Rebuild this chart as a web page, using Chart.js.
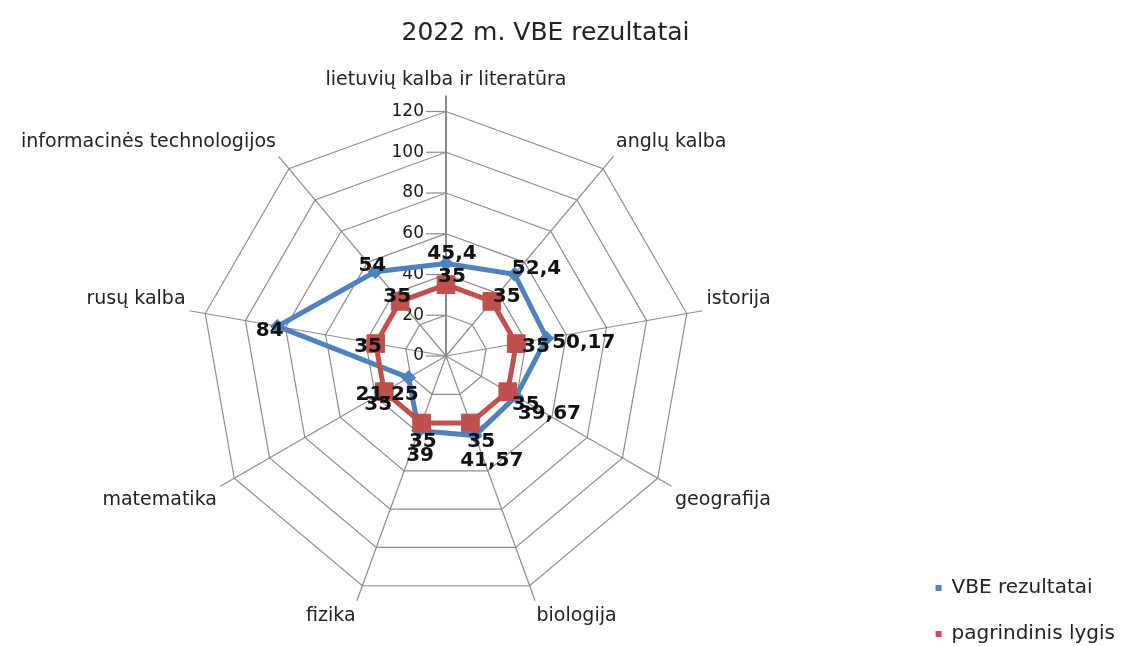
<!DOCTYPE html>
<html>
<head>
<meta charset="utf-8">
<script src="https://cdn.jsdelivr.net/npm/chart.js@4.4.1/dist/chart.umd.min.js"></script>
<style>
    html, body { margin: 0; padding: 0; background: #fff; }
    #wrap { width: 1125px; height: 646px; position: relative; }
</style>
</head>
<body>
<div id="wrap"><canvas id="radar"></canvas></div>
<script>
// duomenys
const dalykai = [
    "lietuvių kalba ir literatūra", "anglų kalba", "istorija", "geografija",
    "biologija", "fizika", "matematika", "rusų kalba", "informacinės technologijos"
];
const vbeRezultatai = [45.4, 52.4, 50.17, 39.67, 41.57, 39, 21.25, 84, 54];
const pagrindinisLygis = [35, 35, 35, 35, 35, 35, 35, 35, 35];
const skalesReiksmes = [0, 20, 40, 60, 80, 100, 120];

const MELYNA = "#4f81bd";
const RAUDONA = "#c0504d";
const SRIFTAS = "'DejaVu Sans', sans-serif";
const TINKLAS = "#8c8c8c";
const DESINE = 58; // vieta dešinėje, kad diagrama būtų kairiau

Chart.defaults.font.family = SRIFTAS;
Chart.defaults.color = "#222";

// ašys ir skalės žymės
const asysPlugin = {
    id: "asys",
    beforeDatasetsDraw(chart) {
        const scale = chart.scales.r;
        const ctx = chart.ctx;
        const max = skalesReiksmes[skalesReiksmes.length - 1];
        ctx.save();
        // spinduliai, šiek tiek ilgesni už tinklelį
        dalykai.forEach((_, i) => {
            const p = scale.getPointPositionForValue(i, max);
            const dx = p.x - scale.xCenter;
            const dy = p.y - scale.yCenter;
            const len = Math.sqrt(dx * dx + dy * dy);
            const k = (len + 16) / len;
            ctx.beginPath();
            ctx.strokeStyle = TINKLAS;
            ctx.lineWidth = i === 0 ? 2 : 1.2;
            ctx.moveTo(scale.xCenter, scale.yCenter);
            ctx.lineTo(scale.xCenter + dx * k, scale.yCenter + dy * k);
            ctx.stroke();
        });
        // skalės reikšmės kairėje nuo vertikalios ašies
        ctx.font = "17px " + SRIFTAS;
        ctx.fillStyle = "#1a1a1a";
        ctx.textAlign = "right";
        ctx.textBaseline = "middle";
        skalesReiksmes.forEach(v => {
            const y = scale.yCenter - scale.getDistanceFromCenterForValue(v);
            ctx.beginPath();
            ctx.strokeStyle = TINKLAS;
            ctx.lineWidth = 1.2;
            ctx.moveTo(scale.xCenter - 20, y);
            ctx.lineTo(scale.xCenter, y);
            ctx.stroke();
            ctx.fillText(String(v), scale.xCenter - 22, y);
        });
        ctx.restore();
    }
};

// reikšmių etiketės prie taškų
const etiketesPlugin = {
    id: "etiketes",
    afterDatasetsDraw(chart) {
        const scale = chart.scales.r;
        const ctx = chart.ctx;
        ctx.save();
        ctx.font = "bold 20px " + SRIFTAS;
        ctx.fillStyle = "#111";
        ctx.textAlign = "center";
        ctx.textBaseline = "middle";
        // pirmiau raudonos, ant viršaus mėlynos
        [1, 0].forEach(di => {
            const meta = chart.getDatasetMeta(di);
            const ds = chart.data.datasets[di];
            const k = di === 0 ? 18 : 14;
            const c = di === 0 ? 8 : 6;
            meta.data.forEach((pt, i) => {
                const a = Math.atan2(pt.y - scale.yCenter, pt.x - scale.xCenter);
                const tekstas = String(ds.data[i]).replace(".", ",");
                const w = ctx.measureText(tekstas).width;
                ctx.fillText(tekstas, pt.x + Math.cos(a) * w / 2 + 6, pt.y + Math.sin(a) * k + c);
            });
        });
        ctx.restore();
    }
};

// legenda apačioje dešinėje, pavadinimas šiek tiek dešiniau, kaip originale
const vietosPlugin = {
    id: "vietos",
    afterLayout(chart) {
        const lg = chart.legend;
        lg.left += DESINE;
        lg.right += DESINE;
        lg.top += 34;
        lg.bottom += 34;
        const t = chart.titleBlock;
        if (t) {
            t.left += 12;
            t.right += 12;
        }
    }
};

const ctx = document.getElementById("radar").getContext("2d");

new Chart(ctx, {
    type: "radar",
    data: {
        labels: dalykai,
        datasets: [
            {
                label: "VBE rezultatai",
                data: vbeRezultatai,
                borderColor: MELYNA,
                backgroundColor: MELYNA,
                borderWidth: 5,
                fill: false,
                pointStyle: "rectRot",
                pointRadius: 7,
                pointBorderWidth: 1,
                pointBackgroundColor: MELYNA,
                pointBorderColor: MELYNA,
                order: 1
            },
            {
                label: "pagrindinis lygis",
                data: pagrindinisLygis,
                borderColor: RAUDONA,
                backgroundColor: RAUDONA,
                borderWidth: 5,
                fill: false,
                pointStyle: "rect",
                pointRadius: 12.5,
                pointBorderWidth: 1,
                pointBackgroundColor: RAUDONA,
                pointBorderColor: RAUDONA,
                order: 0
            }
        ]
    },
    options: {
        responsive: true,
        maintainAspectRatio: false,
        animation: false,
        devicePixelRatio: 1,
        layout: {
            padding: { top: 0, right: DESINE, bottom: 10, left: 0 }
        },
        elements: {
            line: { tension: 0 }
        },
        scales: {
            r: {
                min: 0,
                max: 120,
                beginAtZero: true,
                ticks: {
                    stepSize: 20,
                    display: false
                },
                grid: {
                    color: TINKLAS,
                    lineWidth: 1.2
                },
                angleLines: { display: false },
                pointLabels: {
                    padding: 20,
                    color: "#222",
                    font: { size: 19 }
                }
            }
        },
        plugins: {
            title: {
                display: true,
                text: "2022 m. VBE rezultatai",
                color: "#222",
                font: { size: 25, weight: "normal" },
                padding: { top: 18, bottom: 12 }
            },
            legend: {
                position: "right",
                align: "end",
                labels: {
                    boxWidth: 6,
                    boxHeight: 6,
                    padding: 26,
                    color: "#222",
                    font: { size: 20 },
                    sort: (a, b) => a.datasetIndex - b.datasetIndex,
                    generateLabels(chart) {
                        const items = Chart.defaults.plugins.legend.labels.generateLabels(chart);
                        items.forEach(it => {
                            const ds = chart.data.datasets[it.datasetIndex];
                            it.fillStyle = ds.borderColor;
                            it.strokeStyle = ds.borderColor;
                            it.lineWidth = 0;
                        });
                        return items;
                    }
                }
            },
            tooltip: { enabled: false }
        }
    },
    plugins: [asysPlugin, etiketesPlugin, vietosPlugin]
});
</script>
</body>
</html>
